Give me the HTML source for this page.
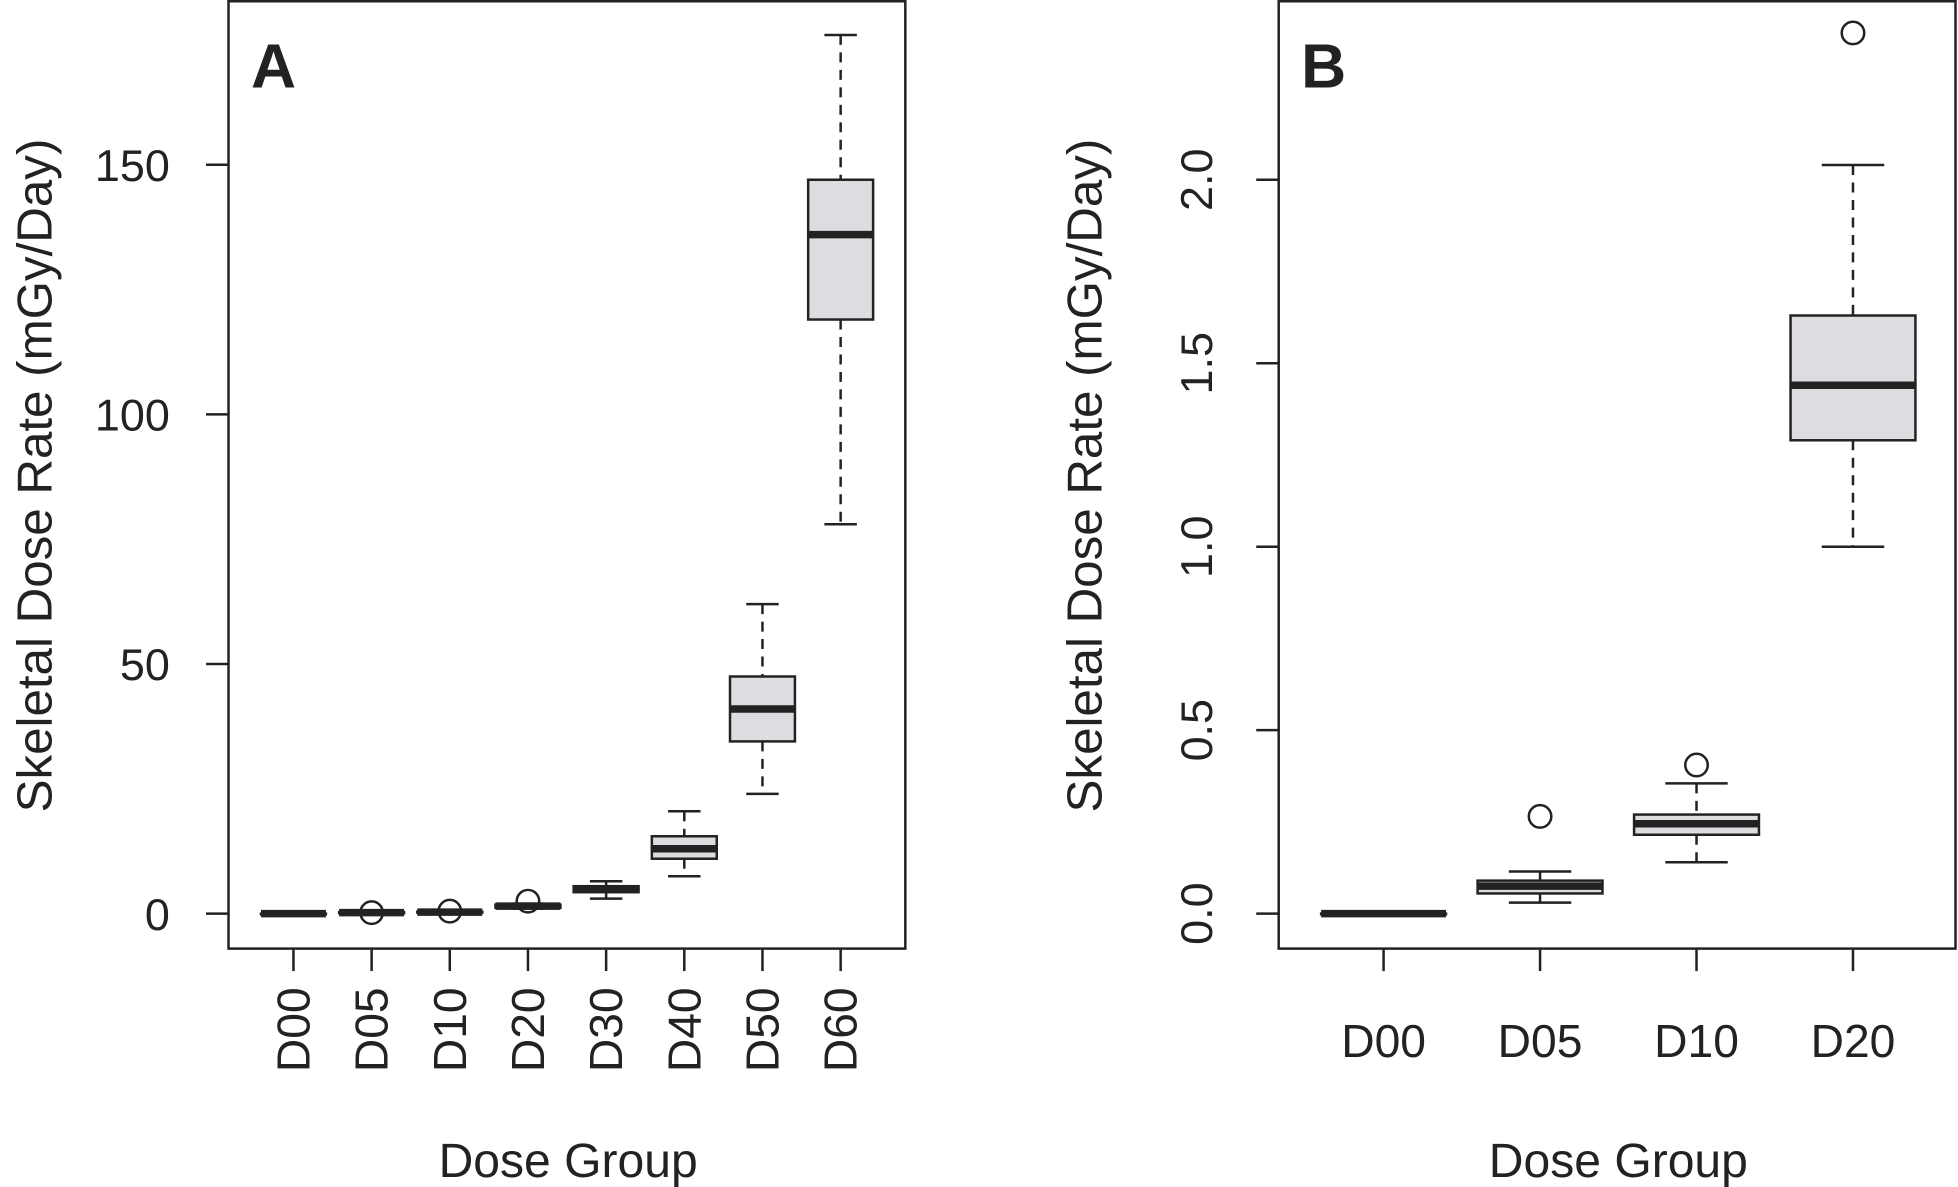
<!DOCTYPE html>
<html><head><meta charset="utf-8"><style>
html,body{margin:0;padding:0;background:#fff}
svg{display:block}
text{font-family:"Liberation Sans",sans-serif;fill:#222}
</style></head><body>
<svg id="chart" width="1958" height="1187" viewBox="0 0 1568 951" preserveAspectRatio="none" xmlns="http://www.w3.org/2000/svg">
<g id="pa"></g>
<g id="pb"></g>
</svg>
<script>
// Panel A data
const catsA = ["D00","D05","D10","D20","D30","D40","D50","D60"];
const minA = [0, 0, 0.1, 1, 3, 7.5, 24, 78];
const q1A = [0, 0.1, 0.2, 1.2, 4.3, 11, 34.5, 119];
const medA = [0, 0.2, 0.3, 1.5, 5, 13, 41, 136];
const q3A = [0, 0.3, 0.4, 1.8, 5.5, 15.5, 47.5, 147];
const maxA = [0, 0.4, 0.5, 2, 6.5, 20.5, 62, 176];
const outA = [[], [0.2], [0.5], [2.5], [], [], [], []];
const ticksA = [0, 50, 100, 150];
// Panel B data
const catsB = ["D00","D05","D10","D20"];
const minB = [0, 0.03, 0.14, 1.0];
const q1B = [0, 0.055, 0.215, 1.29];
const medB = [0, 0.075, 0.245, 1.44];
const q3B = [0, 0.09, 0.27, 1.63];
const maxB = [0, 0.115, 0.355, 2.04];
const outB = [[], [0.265], [0.405], [2.4]];
const ticksB = ["0.0", "0.5", "1.0", "1.5", "2.0"];

const NS = "http://www.w3.org/2000/svg";
function mk(parent, tag, attrs, txt) {
  const e = document.createElementNS(NS, tag);
  for (const k in attrs) e.setAttribute(k, attrs[k]);
  if (txt !== undefined) e.textContent = txt;
  parent.appendChild(e);
  return e;
}

function panel(g, cfg) {
  const {x0, x1, cats, mins, q1s, meds, q3s, maxs, outs, ticks, y, xs, bw, letter, rotX, rotY} = cfg;
  const frame = mk(g, "rect", {x: x0, y: 1, width: x1 - x0, height: 759, fill: "none", stroke: "#222", "stroke-width": 2});
  
  
  const lt = mk(g, "text", {x: x0 + 18, y: 70, "font-size": 50, "font-weight": "bold"}, letter);
  
  
  const ya = mk(g, "g", {});
  
  
  ticks.forEach(t => {
    const yy = y(parseFloat(t));
    mk(ya, "line", {x1: x0 - 18, x2: x0, y1: yy, y2: yy, stroke: "#222", "stroke-width": 2});
    let tl;
    if (rotY) tl = mk(ya, "text", {x: x0 - 66, y: yy, "font-size": 36, "text-anchor": "middle", transform: `rotate(-90 ${x0 - 66} ${yy})`, "dominant-baseline": "central"}, String(t));
    else tl = mk(ya, "text", {x: x0 - 47, y: yy + 13, "font-size": 36, "text-anchor": "end"}, String(t));
    
    
  });
  const yt = mk(g, "text", {x: x0 - 155, y: 381, "font-size": 39.5, "text-anchor": "middle", transform: `rotate(-90 ${x0 - 155} 381)`, "dominant-baseline": "central"}, "Skeletal Dose Rate (mGy/Day)");
  
  
  const xt = mk(g, "text", {x: (x0 + x1) / 2 + 1, y: 943, "font-size": 38.5, "text-anchor": "middle"}, "Dose Group");
  
  
  cats.forEach((c, i) => {
    const cx = xs(i);
    mk(g, "line", {x1: cx, x2: cx, y1: 760, y2: 778, stroke: "#222", "stroke-width": 2});
    let lab;
    if (rotX) lab = mk(g, "text", {x: cx, y: 825, "font-size": 37, "text-anchor": "middle", "dominant-baseline": "central", transform: `rotate(-90 ${cx} 825)`}, c);
    else lab = mk(g, "text", {x: cx, y: 847, "font-size": 37, "text-anchor": "middle"}, c);
    
    
    const bg = mk(g, "g", {});
    
    
    const yMin = y(mins[i]), yQ1 = y(q1s[i]), yMed = y(meds[i]), yQ3 = y(q3s[i]), yMax = y(maxs[i]);
    const cap = bw / 2;
    mk(bg, "line", {x1: cx, x2: cx, y1: yMax, y2: yQ3, stroke: "#222", "stroke-width": 2, "stroke-dasharray": "8,6"});
    mk(bg, "line", {x1: cx, x2: cx, y1: yQ1, y2: yMin, stroke: "#222", "stroke-width": 2, "stroke-dasharray": "8,6"});
    mk(bg, "line", {x1: cx - cap / 2, x2: cx + cap / 2, y1: yMax, y2: yMax, stroke: "#222", "stroke-width": 2});
    mk(bg, "line", {x1: cx - cap / 2, x2: cx + cap / 2, y1: yMin, y2: yMin, stroke: "#222", "stroke-width": 2});
    mk(bg, "rect", {x: cx - bw / 2, y: yQ3, width: bw, height: Math.max(yQ1 - yQ3, 0.5), fill: "#dcdde0", stroke: "#222", "stroke-width": 2});
    mk(bg, "line", {x1: cx - bw / 2, x2: cx + bw / 2, y1: yMed, y2: yMed, stroke: "#222", "stroke-width": 6});
    outs[i].forEach(o => {
      const oc = mk(bg, "circle", {cx: cx, cy: y(o), r: 9, fill: "none", stroke: "#222", "stroke-width": 2});
      
      
    });
  });
}

panel(document.getElementById("pa"), {
  x0: 183, x1: 725, cats: catsA, mins: minA, q1s: q1A, meds: medA, q3s: q3A, maxs: maxA, outs: outA,
  ticks: ticksA, y: v => 732 - v * 4, xs: i => 235 + i * 62.6, bw: 52, letter: "A", rotX: true, rotY: false
});
panel(document.getElementById("pb"), {
  x0: 1024, x1: 1566, cats: catsB, mins: minB, q1s: q1B, meds: medB, q3s: q3B, maxs: maxB, outs: outB,
  ticks: ticksB, y: v => 732 - v * 294, xs: i => 1108 + i * 125.3, bw: 100, letter: "B", rotX: false, rotY: true
});
</script>
</body></html>
